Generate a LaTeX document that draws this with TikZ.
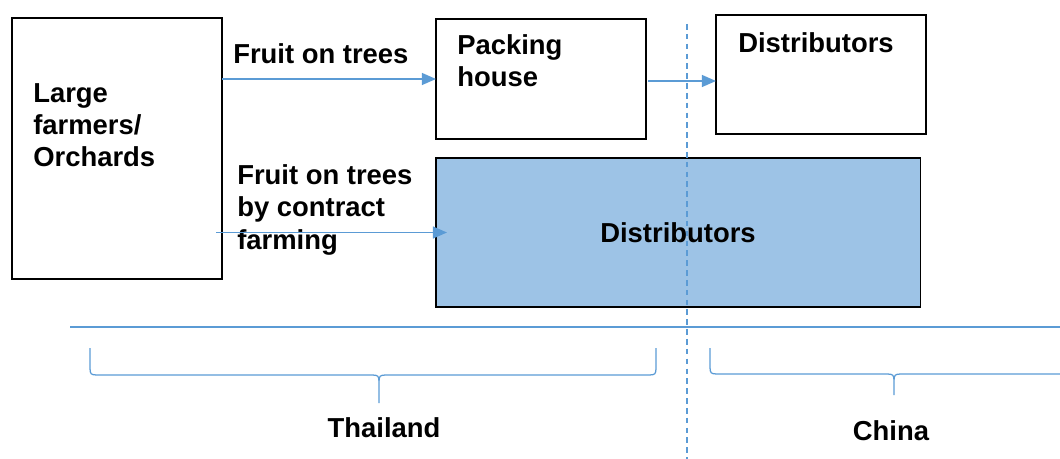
\documentclass[tikz,border=0pt]{standalone}
\usepackage{fontspec}
\setmainfont{Liberation Sans}
\usetikzlibrary{arrows.meta, calc, positioning}
\definecolor{lineblue}{HTML}{5B9BD5}
\definecolor{fillblue}{HTML}{9DC3E6}
\tikzset{
    box/.style={rectangle, draw=black, line width=0.8pt, inner sep=0pt, outer sep=0pt, minimum width=5.25cm},
    shaded/.style={box, fill=fillblue, font=\bfseries\fontsize{19.5}{23}\selectfont},
    txt/.style={inner sep=0pt, align=left, anchor=base west, font=\bfseries\fontsize{19.5}{23}\selectfont},
    flow/.style={lineblue, line width=1pt, -{Triangle[length=10pt, width=8.5pt]}},
    rim/.style={lineblue, line width=0.9pt}
}
% curly bracket under a region: left x, tip x, right x, bar y, tip y
\newcommand{\regionbrace}[5]{%
    \draw[rim] (#1,348) -- (#1,#4-7) .. controls (#1,#4-1) and (#1+1,#4) .. (#1+7,#4)
        -- (#2-7,#4) .. controls (#2-1,#4) and (#2,#4+1) .. (#2,#4+7) -- (#2,#5)
        -- (#2,#4+7) .. controls (#2,#4+1) and (#2+1,#4) .. (#2+7,#4)
        -- (#3-7,#4) .. controls (#3-1,#4) and (#3,#4-1) .. (#3,#4-7) -- (#3,348);
}

\begin{document}
\begin{tikzpicture}[x=0.025cm, y=-0.025cm]
    \clip (0,0) rectangle (1060,459);

    % boxes
    \node (farm) [box, minimum height=6.525cm] at (117,148.5) {};
    \node (pack) [box, minimum height=3cm] at (541,79) {};
    \node (dist) [box, minimum height=2.975cm] at (821,74.5) {};
    \node (blue) [shaded, minimum width=12.1cm, minimum height=3.725cm] at (678,232.5) {Distributors};

    % box texts (base = last line)
    \node (farmtxt) [txt] at (33,167) {Large\\farmers/\\Orchards};
    \node (packtxt) [txt] at (457,87) {Packing\\house};
    \node (disttxt) [txt] at (738,53) {Distributors};

    % channel labels
    \node (fruit) [txt] at (233,64) {Fruit on trees};
    \node (contract) [txt] at (237,249) {Fruit on trees\\by contract\\farming};

    % flows
    \draw [flow] (farm.east |- pack.west) -- (pack.west);
    \draw [flow] ($(pack.east)+(2,2)$) -- ($(dist.west |- pack.east)+(0,2)$);
    \draw [flow] ($(farm.east |- blue.west)+(-6,0)$) -- ($(blue.west)+(11,0)$);

    % border and ground line
    \coordinate (rule west) at (70,327);
    \coordinate (rule east) at (1060,327);
    \coordinate (border top) at (687,24);
    \coordinate (border bottom) at (687,459);
    \draw [rim] (rule west) -- (rule east);
    \draw [lineblue, line width=0.9pt, dash pattern=on 4pt off 3pt] (border top) -- (border bottom);

    % countries
    \regionbrace{90}{379}{656}{375}{403}
    \regionbrace{710}{894}{1078}{374}{395}
    \node (thai) [txt, anchor=base] at (384,437) {Thailand};
    \node (china) [txt, anchor=base] at (891,440) {China};
\end{tikzpicture}
\end{document}
